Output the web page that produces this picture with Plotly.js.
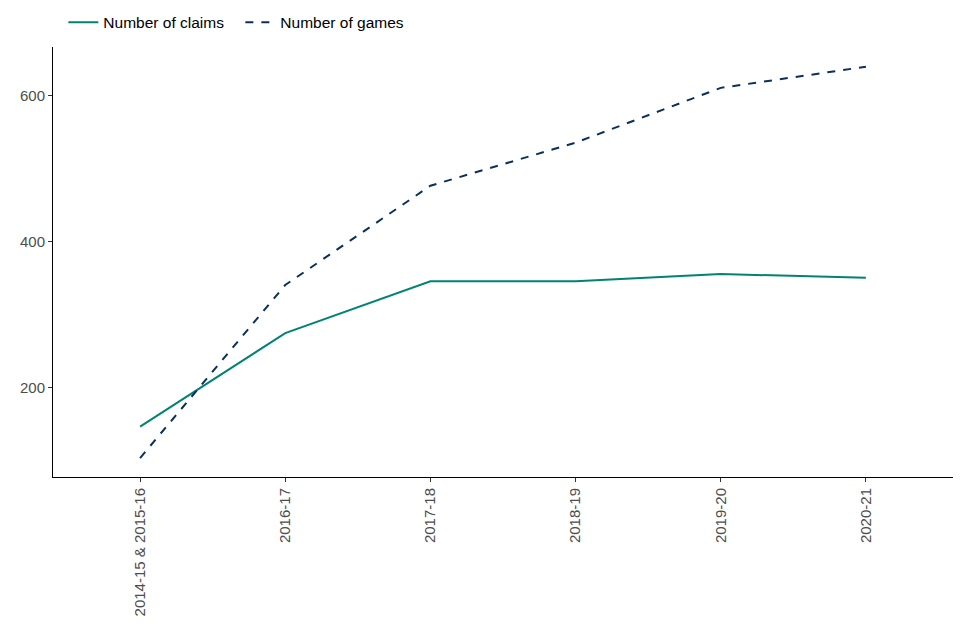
<!DOCTYPE html>
<html>
<head>
<meta charset="utf-8">
<script src="https://cdn.plot.ly/plotly-3.0.1.min.js"></script>
<style>html,body{margin:0;padding:0;background:#fff}#chart{width:960px;height:640px}</style>
</head>
<body>
<div id="chart"></div>
<script>
var years = ["2014-15 & 2015-16", "2016-17", "2017-18", "2018-19", "2019-20", "2020-21"];
var claims = [147, 275, 346, 346, 356, 351];
var games = [104, 341, 477, 536, 611, 640];
var yTicks = [200, 400, 600];

var traces = [
  {x: years, y: claims, type: 'scatter', mode: 'lines', name: 'Number of claims',
   line: {color: '#008373', width: 2}},
  {x: years, y: games, type: 'scatter', mode: 'lines', name: 'Number of games',
   line: {color: '#0b2f5a', width: 2, dash: '8px,8px'}}
];

var layout = {
  width: 960, height: 640,
  margin: {l: 53, r: 7, t: 47, b: 163},
  paper_bgcolor: '#fff', plot_bgcolor: '#fff',
  font: {family: 'Liberation Sans, Arial, sans-serif', size: 15, color: '#000'},
  showlegend: true,
  legend: {orientation: 'h', xref: 'container', yref: 'container', x: 0.066, y: 0.991,
           xanchor: 'left', yanchor: 'top', entrywidth: 132, entrywidthmode: 'pixels',
           font: {size: 15.5, color: '#000'}},
  xaxis: {type: 'category', range: [-0.6, 5.6], showgrid: false, zeroline: false,
          showline: true, linecolor: '#000', linewidth: 1,
          ticks: 'outside', ticklen: 4, tickcolor: '#333', tickangle: -90,
          tickfont: {size: 15, color: '#4d4d4d'}},
  yaxis: {range: [78, 667], showgrid: false, zeroline: false,
          showline: true, linecolor: '#000', linewidth: 1,
          ticks: 'outside', ticklen: 4, tickcolor: '#333',
          tickvals: yTicks, ticktext: yTicks.map(String),
          tickfont: {size: 15, color: '#4d4d4d'}}
};

Plotly.newPlot('chart', traces, layout, {displayModeBar: false, staticPlot: true});
</script>
</body>
</html>
